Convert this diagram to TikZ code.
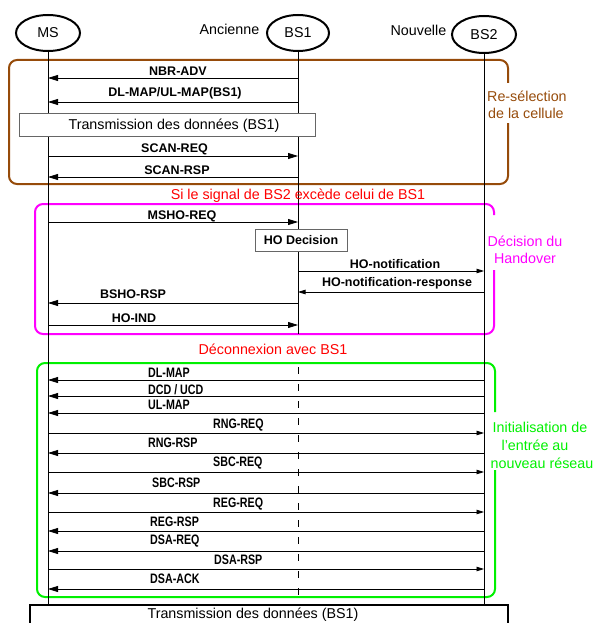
\documentclass[tikz,border=0pt]{standalone}
\usepackage{fontspec}
\setmainfont{Liberation Sans}
\newfontfamily\narrowfont[FakeStretch=0.78]{Liberation Sans}
\usetikzlibrary{arrows.meta,shapes.geometric}
\definecolor{brownc}{RGB}{150,75,10}
\definecolor{magc}{RGB}{255,0,255}
\definecolor{greenc}{RGB}{0,240,0}
\definecolor{redc}{RGB}{255,0,0}
\begin{document}
\begin{tikzpicture}[x=1pt,y=-1pt,
  head/.style={draw, ellipse, line width=2pt, minimum width=64pt, minimum height=36pt, inner sep=0pt, font=\fontsize{14.3}{17}\selectfont},
  lifeline/.style={line width=0.8pt},
  msg/.style={line width=0.8pt, -{Triangle[length=10pt,width=6pt]}},
  msgs/.style={line width=0.8pt, -{Triangle[length=7.5pt,width=4.5pt]}},
  lbl/.style={font=\fontsize{12.5}{14}\selectfont\bfseries, inner sep=0pt, anchor=base},
  glbl/.style={font=\narrowfont\bfseries\fontsize{13.7}{15}\selectfont, inner sep=0pt, anchor=base west},
  txt/.style={font=\fontsize{14.3}{17}\selectfont, inner sep=0pt, anchor=base},
  frame/.style={line width=2pt, rounded corners=8pt}]
\useasboundingbox (0,0) rectangle (595,623);
% coloured frames
\draw[frame, brownc] (508,123) -- (508,184) -- (9,184) -- (9,60) -- (508,60) -- (508,83);
\draw[frame, magc] (494,270) -- (494,334) -- (35,334) -- (35,204) -- (494,204) -- (494,215);
\draw[frame, greenc] (495,470) -- (495,597) -- (37,597) -- (37,363) -- (495,363) -- (495,412);
% heads
\node[head] (ms) at (48,33) {MS};
\node[head, minimum width=62pt] (bs1) at (298,33) {BS1};
\node[head, minimum height=37pt] (bs2) at (484,34.5) {BS2};
\node[txt, fill=white, inner sep=1.5pt, anchor=base east] (anc) at (261,35) {Ancienne};
\node[txt, fill=white, inner sep=1.5pt, anchor=base east] (nouv) at (448,36) {Nouvelle};
% lifelines
\draw[lifeline] (ms) -- (ms |- 0,605);
\draw[lifeline] (bs2) -- (bs2 |- 0,605);
\draw[lifeline] (bs1) -- (bs1 |- 0,334);
\draw[lifeline, dash pattern=on 7pt off 10pt] (bs1 |- 0,367) -- (bs1 |- 0,603);
% frame labels
\node[txt, text=brownc, anchor=base west] (rs1) at (487,102) {Re-sélection};
\node[txt, text=brownc, anchor=base west] (rs2) at (488,118) {de la cellule};
\node[txt, text=magc] (dh1) at (525,246) {Décision du};
\node[txt, text=magc] (dh2) at (525,263) {Handover};
\node[txt, text=greenc] (in1) at (540,432) {Initialisation de};
\node[txt, text=greenc] (in2) at (535,450) {l'entrée au};
\node[txt, text=greenc] (in3) at (542,468) {nouveau réseau};
\node[txt, text=redc] (sig) at (298,199) {Si le signal de BS2 excède celui de BS1};
\node[txt, text=redc] (dec) at (273,354) {Déconnexion avec BS1};
% brown section
\draw[msg] (bs1 |- 0,78) -- (ms |- 0,78);
\node[lbl] (m1) at (178,75.5) {NBR-ADV};
\draw[msg] (bs1 |- 0,102) -- (ms |- 0,102);
\node[lbl] (m2) at (175,97) {DL-MAP/UL-MAP(BS1)};
\node[draw=black!60, line width=0.8pt, fill=white, minimum width=296pt, minimum height=23pt, inner sep=0pt] (txbox) at (167,124.5) {};
\node[txt] (tx1) at (174,129.5) {Transmission des données (BS1)};
\draw[msg] (ms |- 0,156) -- (bs1 |- 0,156);
\node[lbl] (m3) at (174.5,152) {SCAN-REQ};
\draw[msg] (bs1 |- 0,177) -- (ms |- 0,177);
\node[lbl] (m4) at (177,174) {SCAN-RSP};
% magenta section
\draw[msg] (ms |- 0,222) -- (bs1 |- 0,222);
\node[lbl] (m5) at (182,219) {MSHO-REQ};
\node[draw=black!60, line width=0.8pt, fill=white, minimum width=92pt, minimum height=22pt, inner sep=0pt, font=\fontsize{12.5}{14}\selectfont\bfseries] (hod) at (301,240) {HO Decision};
\draw[msgs] (bs1 |- 0,271) -- (bs2 |- 0,271);
\node[lbl] (m6) at (395,268) {HO-notification};
\draw[msgs] (bs2 |- 0,292) -- (bs1 |- 0,292);
\node[lbl] (m7) at (397,286.5) {HO-notification-response};
\draw[msg] (bs1 |- 0,303) -- (ms |- 0,303);
\node[lbl] (m8) at (133,298.5) {BSHO-RSP};
\draw[msg] (ms |- 0,325) -- (bs1 |- 0,325);
\node[lbl] (m9) at (134,322.5) {HO-IND};
% green section
\draw[msg] (bs2 |- 0,380) -- (ms |- 0,380);
\node[glbl] (g1) at (148,377) {DL-MAP};
\draw[msg] (bs2 |- 0,396) -- (ms |- 0,396);
\node[glbl] (g2) at (148,394) {DCD / UCD};
\draw[msg] (bs2 |- 0,413) -- (ms |- 0,413);
\node[glbl] (g3) at (148,409) {UL-MAP};
\draw[msgs] (ms |- 0,433) -- (bs2 |- 0,433);
\node[glbl] (g4) at (213,428) {RNG-REQ};
\draw[msg] (bs2 |- 0,453) -- (ms |- 0,453);
\node[glbl] (g5) at (148,447) {RNG-RSP};
\draw[msgs] (ms |- 0,472) -- (bs2 |- 0,472);
\node[glbl] (g6) at (213,466) {SBC-REQ};
\draw[msg] (bs2 |- 0,493) -- (ms |- 0,493);
\node[glbl] (g7) at (152,487) {SBC-RSP};
\draw[msgs] (ms |- 0,512) -- (bs2 |- 0,512);
\node[glbl] (g8) at (213,507) {REG-REQ};
\draw[msg] (bs2 |- 0,531) -- (ms |- 0,531);
\node[glbl] (g9) at (150,526) {REG-RSP};
\draw[msg] (bs2 |- 0,551) -- (ms |- 0,551);
\node[glbl] (g10) at (150,544) {DSA-REQ};
\draw[msgs] (ms |- 0,569) -- (bs2 |- 0,569);
\node[glbl] (g11) at (214,564) {DSA-RSP};
\draw[msg] (bs2 |- 0,589) -- (ms |- 0,589);
\node[glbl] (g12) at (150,583) {DSA-ACK};
% bottom box
\draw[line width=2pt] (30,626) -- (30,605) -- (508,605) -- (508,626);
\node[txt] (tx2) at (253,618.5) {Transmission des données (BS1)};
\end{tikzpicture}
\end{document}
